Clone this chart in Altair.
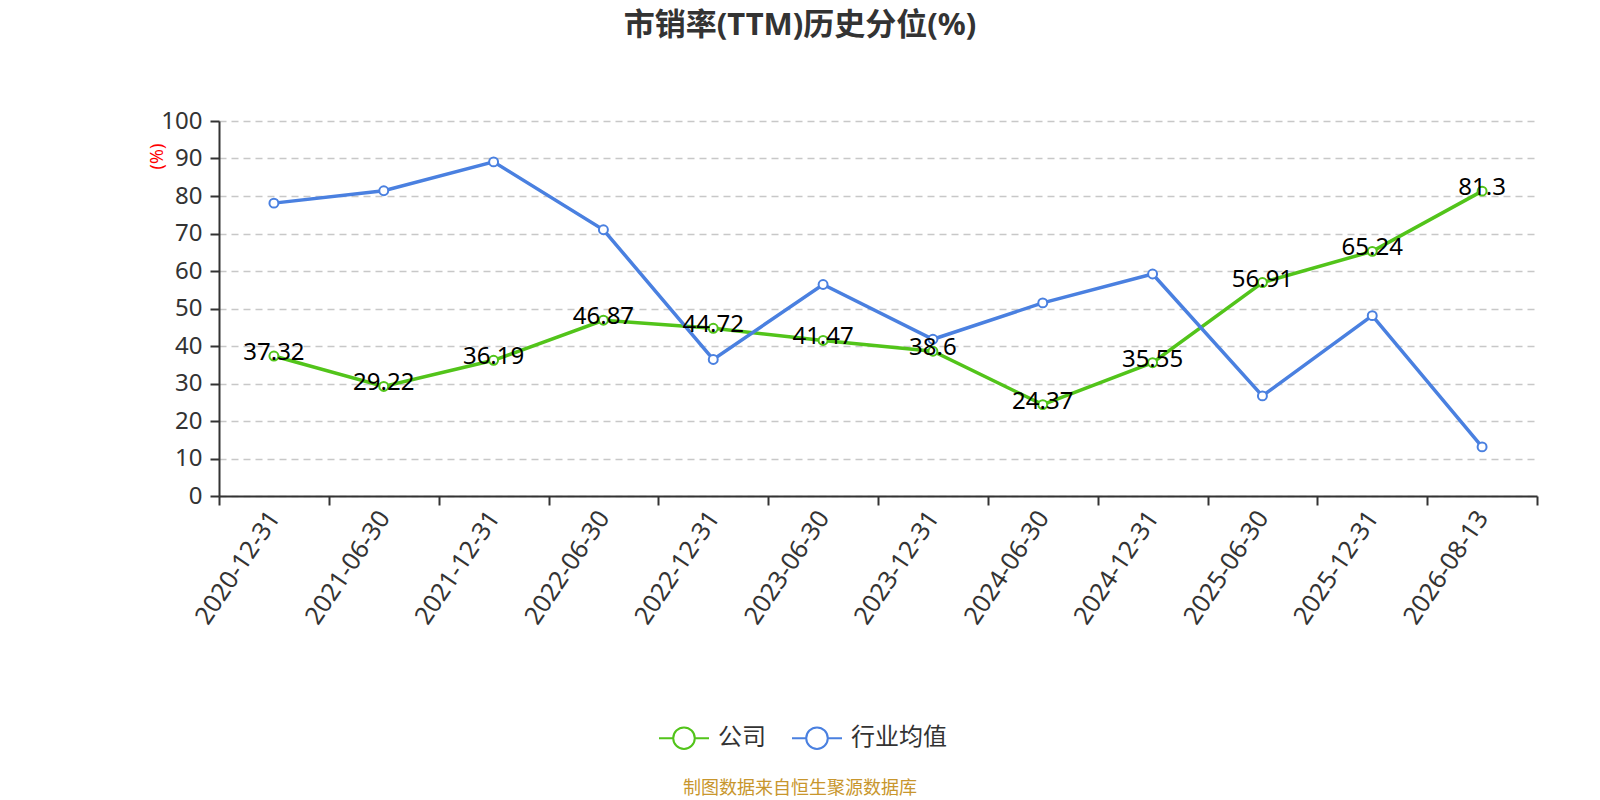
import json
import altair as alt
import pandas as pd

# ---- data ----
dates = ['2020-12-31', '2021-06-30', '2021-12-31', '2022-06-30', '2022-12-31', '2023-06-30',
         '2023-12-31', '2024-06-30', '2024-12-31', '2025-06-30', '2025-12-31', '2026-08-13']
company = [37.32, 29.22, 36.19, 46.87, 44.72, 41.47, 38.6, 24.37, 35.55, 56.91, 65.24, 81.3]
industry = [78.1, 81.4, 89.1, 71.0, 36.4, 56.4, 41.8, 51.5, 59.2, 26.7, 48.1, 13.1]
series_names = ['公司', '行业均值']
series_colors = ['#52c41a', '#4a80e0']
y_ticks = [0, 10, 20, 30, 40, 50, 60, 70, 80, 90, 100]
title_text = ['市销率(TTM)历史分位(%)']
source_text = ['制图数据来自恒生聚源数据库']

FONT = 'Noto Sans, Noto Sans CJK SC'
n = len(dates)

rows = []
for name, vals in zip(series_names, [company, industry]):
    for i, (d, v) in enumerate(zip(dates, vals)):
        rows.append({'idx': i, 'date': d, 'series': name, 'value': v, 'label': f'{v:g}'})
df = pd.DataFrame(rows)
df_company = df[df['series'] == series_names[0]]

x_scale = alt.Scale(domain=[-0.5, n - 0.5], nice=False, zero=False)
y_scale = alt.Scale(domain=[0, 100], nice=False)

label_expr = json.dumps(dates) + '[datum.value]'

x_axis_labels = alt.Axis(
    values=list(range(n)), labelExpr=label_expr, ticks=False, domain=False, grid=False,
    labelAngle=-56, labelAlign='right', labelBaseline='middle', labelPadding=17,
    labelFontSize=25, labelColor='#333', labelFont=FONT, title=None, orient='bottom',
    labelOverlap=False, labelFlush=False,
)
x_axis_ticks = alt.Axis(
    values=[i - 0.5 for i in range(n + 1)], labels=False, ticks=True, tickSize=9,
    tickColor='#333', tickWidth=2, domain=True, domainColor='#333', domainWidth=2,
    grid=False, title=None, orient='bottom',
)
y_axis = alt.Axis(
    values=y_ticks, title='(%)', titleColor='red', titleFontSize=18, titleFont=FONT,
    titleFontWeight='normal', titleAngle=-90, titleAlign='center', titleBaseline='middle',
    titleX=-62, titleY=35, labelFontSize=24, labelColor='#333', labelFont=FONT,
    labelPadding=8, tickSize=9, tickColor='#333', tickWidth=2, domainColor='#333',
    domainWidth=2, grid=True, gridColor='#c8c8c8', gridDash=[7, 5], gridWidth=1.4,
)

legend_path = ('M-1,0L-0.43,0M0.43,0L1,0M0.43,0A0.43,0.43,0,1,1,-0.43,0'
               'A0.43,0.43,0,1,1,0.43,0')
legend = alt.Legend(
    title=None, orient='none', legendX=439, legendY=591, direction='horizontal',
    symbolType=legend_path, symbolSize=2500, symbolStrokeWidth=2, symbolFillColor='white',
    symbolOpacity=1, labelFontSize=24, labelColor='#333', labelFont=FONT,
    columnPadding=22, labelOffset=8,
)
color = alt.Color('series:N', scale=alt.Scale(domain=series_names, range=series_colors),
                  legend=legend)

y_enc = alt.Y('value:Q', scale=y_scale, axis=y_axis)

lines = alt.Chart(df).mark_line(strokeWidth=3.5).encode(
    x=alt.X('idx:Q', scale=x_scale, axis=x_axis_labels),
    y=y_enc,
    color=color,
    detail='series:N',
)
points = alt.Chart(df).mark_point(
    shape='circle', filled=False, fill='white', fillOpacity=1, opacity=1, size=80, strokeWidth=2
).encode(
    x=alt.X('idx:Q', scale=x_scale, axis=x_axis_ticks),
    y=y_enc,
    color=color,
)
labels = alt.Chart(df_company).mark_text(
    fontSize=24, font=FONT, color='#000', baseline='middle', align='center', dy=-3
).encode(
    x=alt.X('idx:Q', scale=x_scale, axis=None),
    y=y_enc,
    text='label:N',
)
title = alt.Chart(pd.DataFrame({'t': title_text})).mark_text(
    fontSize=31, fontWeight='bold', font=FONT, color='#333', align='center', baseline='middle'
).encode(x=alt.value(581), y=alt.value(-95), text='t:N')
source = alt.Chart(pd.DataFrame({'t': source_text})).mark_text(
    fontSize=18, font=FONT, color='#c8962d', align='center', baseline='middle'
).encode(x=alt.value(581), y=alt.value(668), text='t:N')

chart = alt.layer(lines, points, labels, title, source).resolve_axis(
    x='independent'
).properties(
    width=1318, height=375,
    autosize=alt.AutoSizeParams(type='none'),
    padding={'left': 211, 'top': 113, 'right': 55, 'bottom': 304},
).configure_view(stroke=None)

chart.save('out.html', embed_options={'renderer': 'svg', 'actions': False})
